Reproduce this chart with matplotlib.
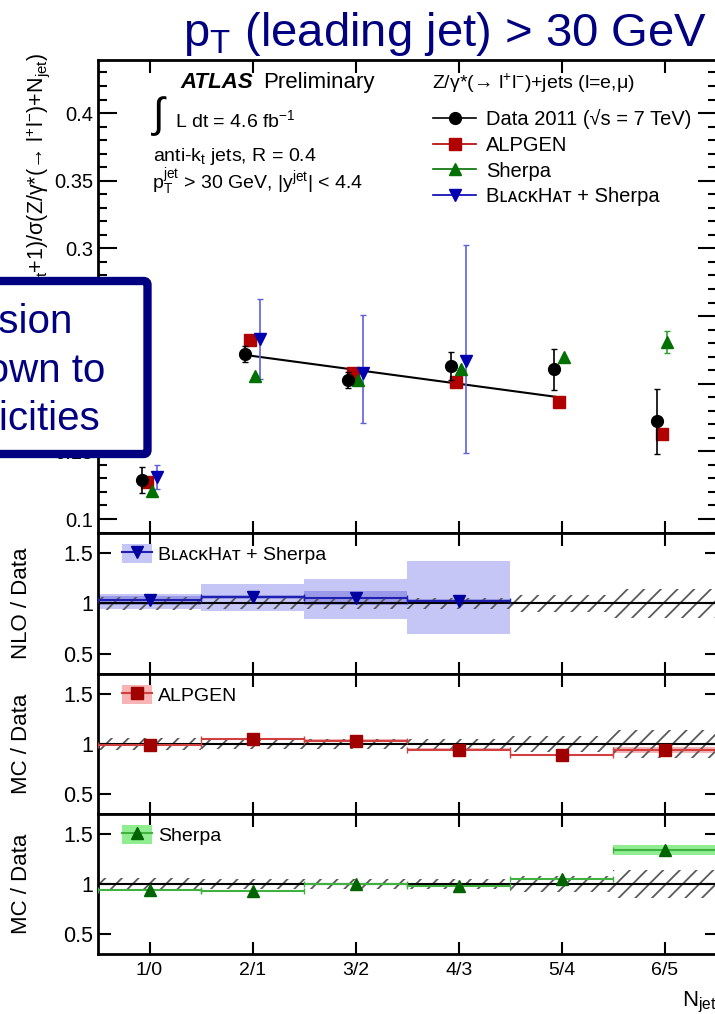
import matplotlib
matplotlib.use('Agg')
import numpy as np
import matplotlib.pyplot as plt
from matplotlib.lines import Line2D
from matplotlib.patches import Patch, FancyBboxPatch
from matplotlib.legend_handler import HandlerTuple
from matplotlib.ticker import FixedLocator, MultipleLocator, FormatStrFormatter

plt.rcParams['font.family'] = ['Liberation Sans', 'DejaVu Sans']
plt.rcParams['mathtext.fontset'] = 'custom'
plt.rcParams['mathtext.rm'] = 'Liberation Sans'
plt.rcParams['mathtext.it'] = 'Liberation Sans:italic'
plt.rcParams['mathtext.bf'] = 'Liberation Sans:bold'
plt.rcParams['hatch.linewidth'] = 1.3

# N_jet+1 / N_jet bins
njet = np.array([1, 2, 3, 4, 5, 6])
njet_labels = ['1/0', '2/1', '3/2', '4/3', '5/4', '6/5']

data_ratio = [0.1286, 0.2217, 0.2025, 0.2131, 0.2107, 0.1724]
data_err = [0.0095, 0.006, 0.006, 0.010, 0.015, 0.024]
alpgen_ratio = [0.1270, 0.2320, 0.2077, 0.2013, 0.1865, 0.1626]
sherpa_ratio = [0.1204, 0.2055, 0.2030, 0.2107, 0.2195, 0.2309]
sherpa_err = [0, 0, 0, 0, 0, 0.008]
bh_njet = np.array([1, 2, 3, 4])
bh_ratio = [0.1310, 0.2328, 0.2077, 0.2168]
bh_err_lo = [0.009, 0.0295, 0.037, 0.068]
bh_err_hi = [0.009, 0.0296, 0.043, 0.086]

# straight-line fit to data, 2/1 .. 5/4
fit_x = [2.0, 5.0]
fit_y = [0.2205, 0.1897]

# theory / data
data_band = np.array([0.06, 0.05, 0.05, 0.05, 0.08, 0.14])
nlo_over_data = np.array([1.03, 1.06, 1.05, 1.02])
nlo_inner = np.array([0.045, 0.02, 0.07, 0.02])
nlo_band_lo = np.array([0.95, 0.93, 0.85, 0.70])
nlo_band_hi = np.array([1.09, 1.19, 1.24, 1.42])
alpgen_over_data = np.array([0.99, 1.05, 1.035, 0.945, 0.89, 0.945])
alpgen_band = np.array([0.012, 0.012, 0.012, 0.012, 0.012, 0.03])
sherpa_over_data = np.array([0.94, 0.93, 1.0, 0.985, 1.05, 1.34])
sherpa_band = np.array([0.012, 0.012, 0.012, 0.012, 0.012, 0.05])

navy = '#000080'
c_alp, c_she, c_bh = '#b00000', '#007000', '#0000b0'

fig = plt.figure(figsize=(7.15, 10.14), dpi=100)
left, width = 98 / 715, 618.5 / 715
ax = fig.add_axes([left, 0.4744, width, 0.4664])
ax_nlo = fig.add_axes([left, 0.3353, width, 0.1391])
ax_alp = fig.add_axes([left, 0.1972, width, 0.1381])
ax_she = fig.add_axes([left, 0.0592, width, 0.1380])

for a in (ax, ax_nlo, ax_alp, ax_she):
    a.set_xlim(0.5, 6.5)
    a.xaxis.set_major_locator(FixedLocator(njet))
    a.set_xticklabels([])
    a.tick_params(which='both', direction='in', top=True, right=True, width=1.5,
                  labelsize=14.5)
    a.tick_params(axis='x', length=9)
    for s in a.spines.values():
        s.set_linewidth(2)

# main panel
ax.set_ylim(0.0897, 0.4392)
ax.yaxis.set_major_locator(FixedLocator([0.1, 0.15, 0.2, 0.25, 0.3, 0.35, 0.4]))
ax.yaxis.set_minor_locator(MultipleLocator(0.01))
ax.yaxis.set_major_formatter(FormatStrFormatter('%g'))
ax.tick_params(axis='y', which='major', length=14)
ax.tick_params(axis='y', which='minor', length=6.5)
ax.tick_params(axis='x', which='minor', length=0)

ax.plot(fit_x, fit_y, color='k', lw=1.5, zorder=2)
ax.errorbar(njet - 0.078, data_ratio, yerr=data_err, fmt='o', color='k', ms=8.5,
            capsize=2, elinewidth=1.2, zorder=5)
ax.errorbar(njet - 0.028, alpgen_ratio, fmt='s', color=c_alp, ms=8, zorder=4)
ax.errorbar(njet + 0.022, sherpa_ratio, yerr=sherpa_err, fmt='^', color=c_she, ms=9,
            ecolor='#30a030', capsize=2, elinewidth=1.2, zorder=4)
ax.errorbar(bh_njet + 0.072, bh_ratio, yerr=[bh_err_lo, bh_err_hi], fmt='v', color=c_bh,
            ms=9, ecolor='#6060e0', capsize=2, elinewidth=1.2, zorder=4)

ax.set_ylabel('σ(Z/γ*(→ l$^{+}$l$^{-}$)+N$_{\\mathrm{jet}}$+1)/σ(Z/γ*(→ l$^{+}$l$^{-}$)+N$_{\\mathrm{jet}}$)',
              fontsize=15.5, loc='top')
ax.yaxis.set_label_coords(-0.074, 1.015)

ax.text(0.1326, 0.9535, 'ATLAS', transform=ax.transAxes, fontsize=16,
        fontweight='bold', fontstyle='italic', va='center')
ax.text(0.2668, 0.9535, 'Preliminary', transform=ax.transAxes, fontsize=16, va='center')
ax.text(0.089, 0.8805, '∫', transform=ax.transAxes, fontsize=30, va='center')
ax.text(0.1245, 0.873, 'L dt = 4.6 fb$^{-1}$', transform=ax.transAxes, fontsize=14,
        va='center')
ax.text(0.089, 0.797, 'anti-k$_{\\mathrm{t}}$ jets, R = 0.4', transform=ax.transAxes,
        fontsize=14, va='center')
ax.text(0.087, 0.727, 'p$_{\\mathrm{T}}^{\\mathrm{jet}}$ > 30 GeV, |y$^{\\mathrm{jet}}$| < 4.4',
        transform=ax.transAxes, fontsize=14, va='baseline')

ax.text(0.540, 0.951, 'Z/γ*(→ l$^{+}$l$^{-}$)+jets (l=e,μ)', transform=ax.transAxes,
        fontsize=14, va='center')
handles = [Line2D([], [], color='k', marker='o', ms=8.5, lw=1.2),
           Line2D([], [], color=c_alp, marker='s', ms=8, lw=1.2),
           Line2D([], [], color=c_she, marker='^', ms=9, lw=1.2),
           Line2D([], [], color=c_bh, marker='v', ms=9, lw=1.2)]
labels = ['Data 2011 (√s = 7 TeV)', 'ALPGEN', 'Sherpa', 'BʟᴀᴄᴋHᴀᴛ + Sherpa']
ax.legend(handles, labels, loc='upper left', bbox_to_anchor=(0.5416, 0.897),
          frameon=False, fontsize=14.5, handlelength=2.15, handletextpad=0.5,
          labelspacing=0.34, borderpad=0, borderaxespad=0)


def ratio_panel(a, x, vals, band_lo, band_hi, band_col, line_col, mark_col, marker,
                label, ylabel, inner=None, inner_col=None):
    a.set_ylim(0.3, 1.7)
    a.yaxis.set_major_locator(FixedLocator([0.5, 1.0, 1.5]))
    a.yaxis.set_major_formatter(FormatStrFormatter('%g'))
    a.tick_params(axis='y', length=9, labelsize=15.5)
    a.bar(x, band_hi - band_lo, bottom=band_lo, width=1.0, color=band_col, lw=0, zorder=1)
    if inner is not None:
        a.bar(x, 2 * inner, bottom=vals - inner, width=1.0, color=inner_col, lw=0, zorder=1.5)
    a.bar(njet, 2 * data_band, bottom=1 - data_band, width=1.0, fill=False, hatch='//',
          edgecolor='#5a5a5a', lw=0, zorder=2)
    a.axhline(1.0, color='k', lw=1.5, zorder=3)
    a.errorbar(x, vals, xerr=0.5, fmt='none', ecolor=line_col, elinewidth=1.5,
               capsize=2, zorder=4)
    a.plot(x, vals, ls='none', marker=marker, color=mark_col, ms=9, zorder=5)
    a.set_ylabel(ylabel, fontsize=16)
    a.yaxis.set_label_coords(-0.107, 0.5)
    h = (Patch(facecolor=band_col, edgecolor='none'),
         Line2D([], [], color=line_col, lw=1.5, marker=marker, mfc=mark_col,
                mec=mark_col, ms=9))
    a.legend([h], [label], handler_map={tuple: HandlerTuple(ndivide=1, pad=0)},
             loc='center left', bbox_to_anchor=(0.039, 0.85), frameon=False,
             fontsize=14, handlelength=1.55, handleheight=1.1, handletextpad=0.3,
             borderpad=0, borderaxespad=0)


ratio_panel(ax_nlo, bh_njet, nlo_over_data, nlo_band_lo, nlo_band_hi, '#c6c6f6',
            '#2020b0', '#0000a0', 'v', 'BʟᴀᴄᴋHᴀᴛ + Sherpa', 'NLO / Data',
            inner=nlo_inner, inner_col='#9a9ae8')
ratio_panel(ax_alp, njet, alpgen_over_data, alpgen_over_data - alpgen_band,
            alpgen_over_data + alpgen_band, '#f6b4b4', '#d04040', '#a00000', 's',
            'ALPGEN', 'MC / Data')
ratio_panel(ax_she, njet, sherpa_over_data, sherpa_over_data - sherpa_band,
            sherpa_over_data + sherpa_band, '#90ee90', '#40b040', '#006400', '^',
            'Sherpa', 'MC / Data')

ax_she.set_xticklabels(njet_labels)
ax_she.tick_params(axis='x', labelsize=14, pad=6)
ax_she.set_xlabel('N$_{\\mathrm{jet}}$', fontsize=16, loc='right')
ax_she.xaxis.set_label_coords(1.0, -0.26)

fig.text(183 / 715, 1 - 46 / 1014, 'p$_{\\mathrm{T}}$ (leading jet) > 30 GeV',
         color=navy, fontsize=34, va='baseline')

# slide call-out box
box = FancyBboxPatch((-0.5, 5.60), 1.975, 1.73, boxstyle='round,pad=0,rounding_size=0.04',
                     transform=fig.dpi_scale_trans, fc='white', ec=navy, lw=6, zorder=5)
fig.add_artist(box)
for txt, xr, yb in [('Good precision', 0.72, 6.81), ('shown to', 1.05, 6.32),
                    ('high multiplicities', 1.00, 5.84)]:
    fig.text(xr, yb, txt, transform=fig.dpi_scale_trans, ha='right', va='baseline',
             color=navy, fontsize=29, zorder=6)

fig.savefig('out.png', dpi=100)
